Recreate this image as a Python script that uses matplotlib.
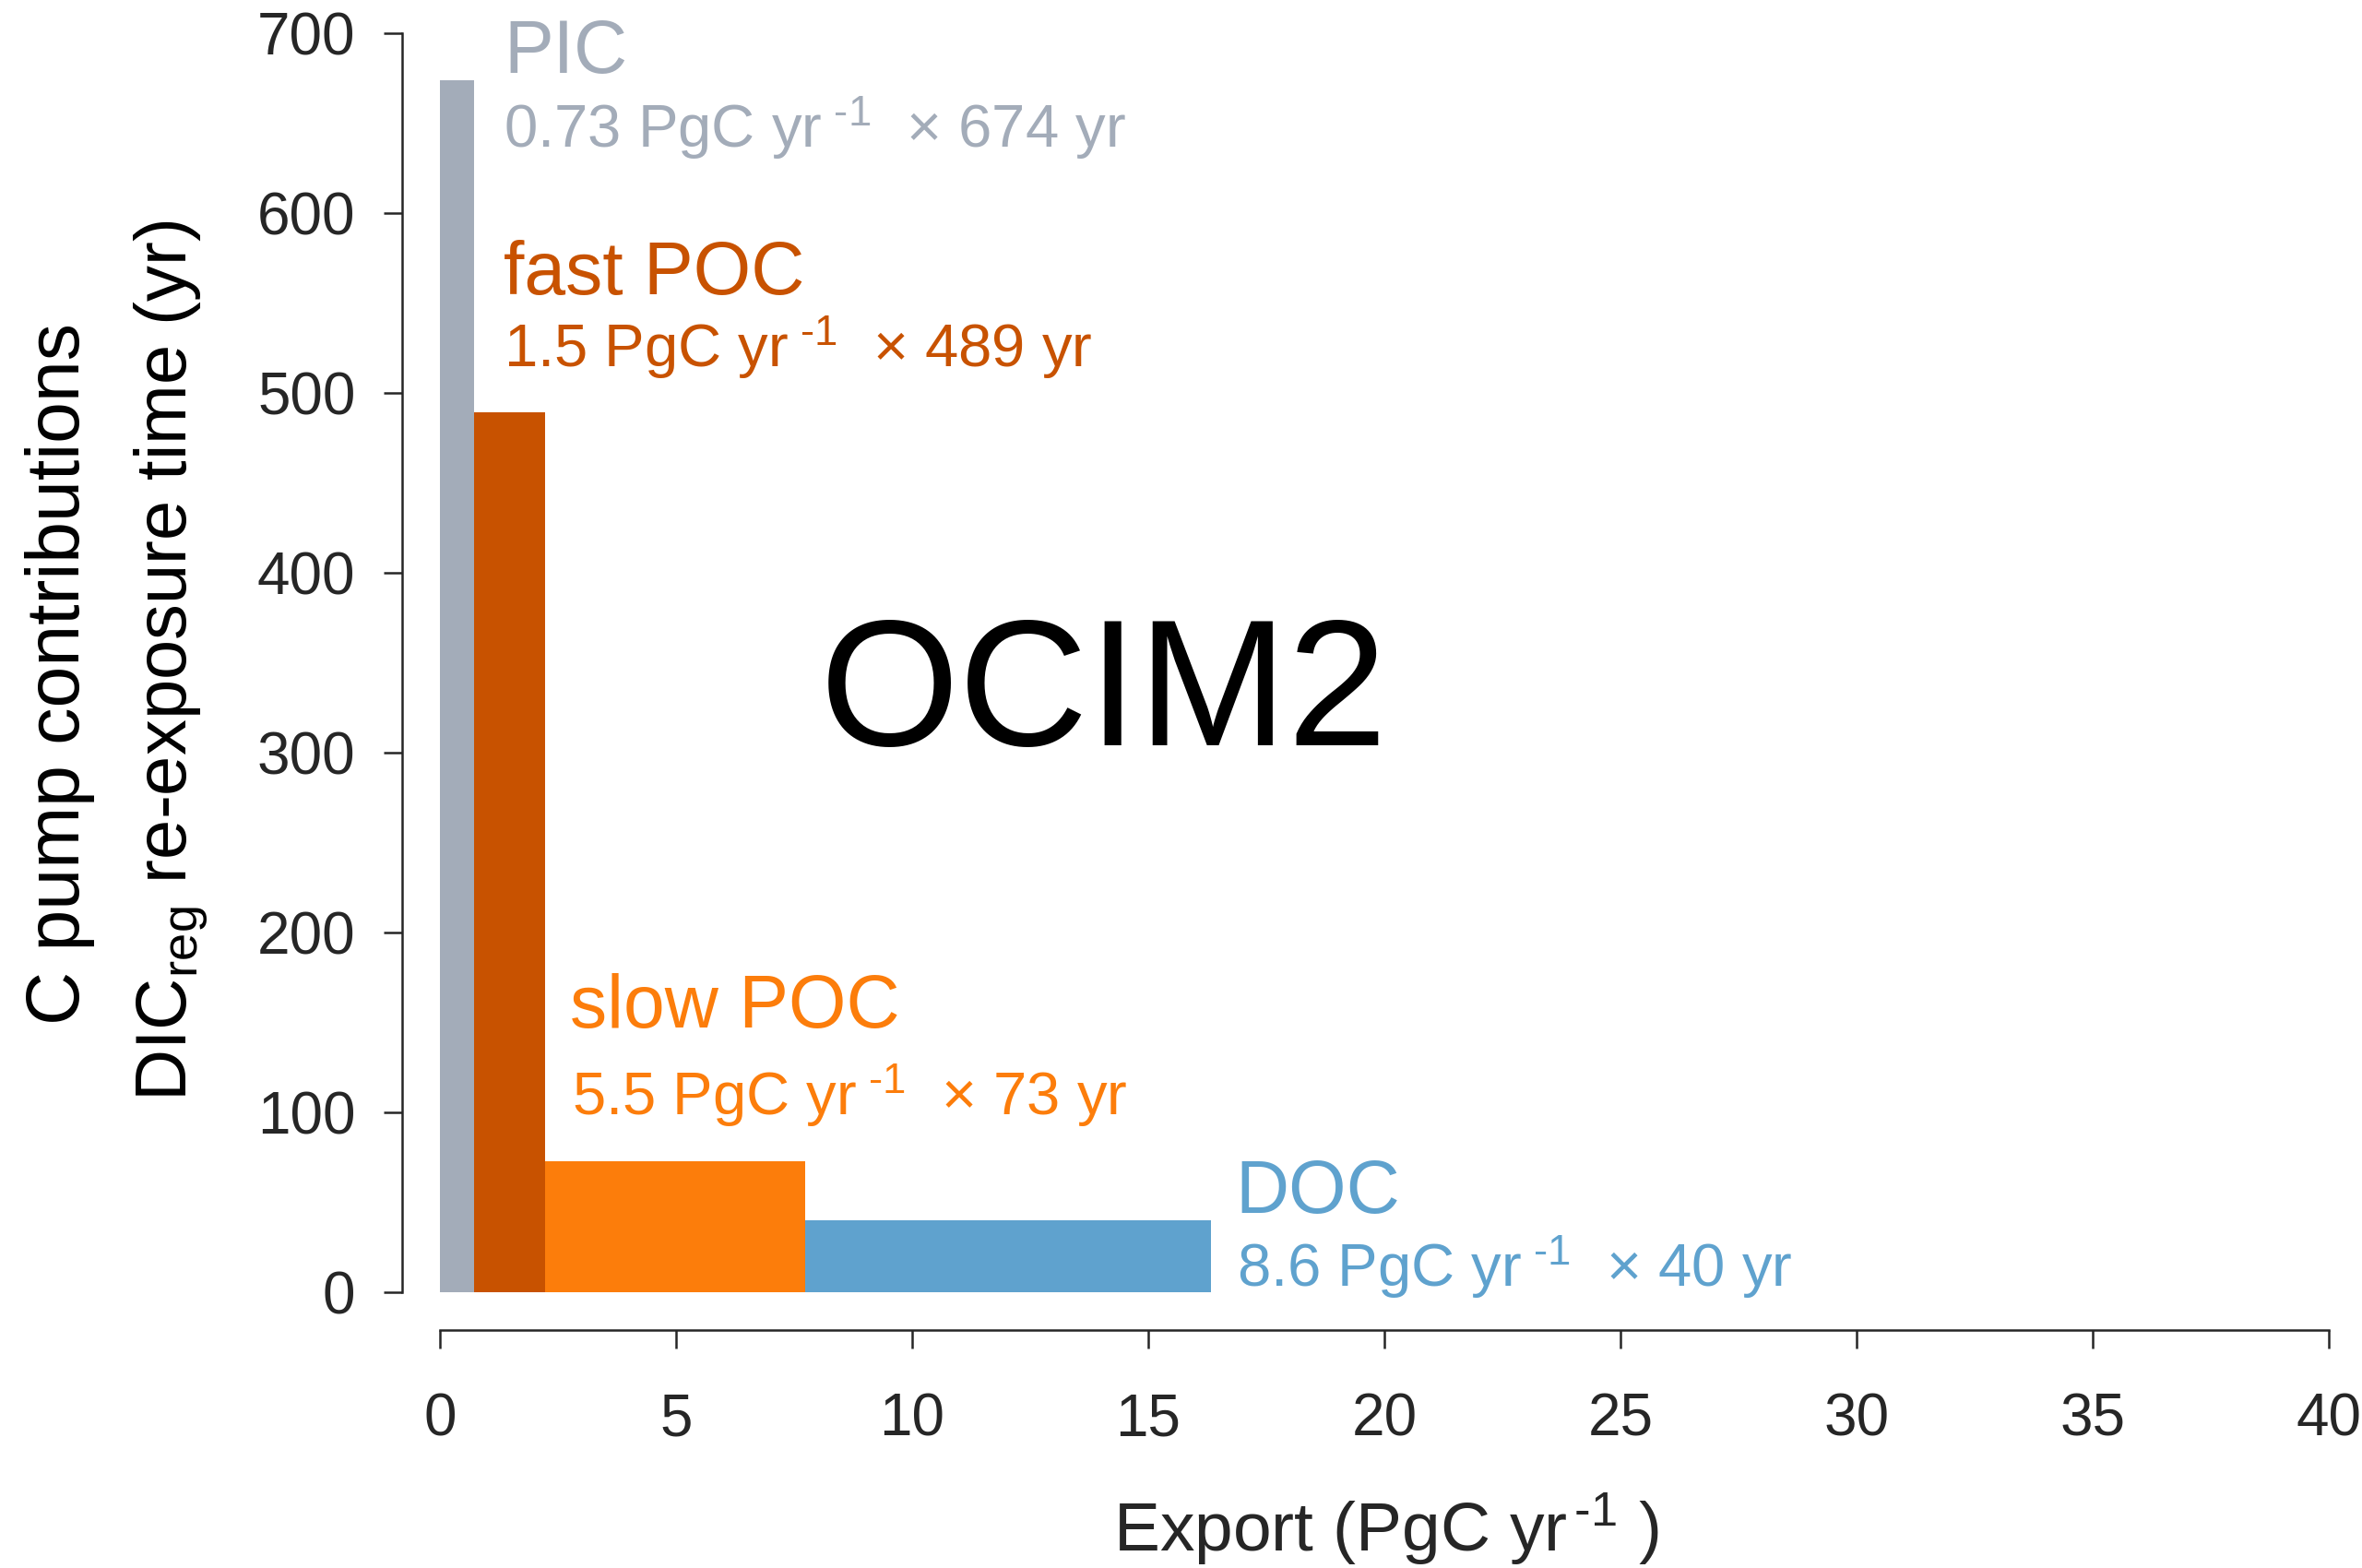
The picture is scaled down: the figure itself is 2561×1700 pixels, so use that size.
import matplotlib
matplotlib.use("Agg")
import matplotlib.pyplot as plt
import numpy as np

# ---- data ----
categories = ["PIC", "fast POC", "slow POC", "DOC"]
export = [0.73, 1.5, 5.5, 8.6]            # PgC / yr  (bar widths)
reexposure = [674, 489, 73, 40]           # yr        (bar heights)
export_labels = ["0.73", "1.5", "5.5", "8.6"]
colors = ["#A3ACB9", "#C85200", "#FC7D0B", "#5FA2CE"]
xticks = [0, 5, 10, 15, 20, 25, 30, 35, 40]
yticks = [0, 100, 200, 300, 400, 500, 600, 700]

plt.rcParams["font.family"] = ["Liberation Sans", "DejaVu Sans"]
plt.rcParams["mathtext.fontset"] = "custom"
plt.rcParams["mathtext.rm"] = "Liberation Sans"
plt.rcParams["mathtext.it"] = "Liberation Sans:italic"
plt.rcParams["mathtext.bf"] = "Liberation Sans:bold"

DPI = 200
W, H = 2561, 1700
fig = plt.figure(figsize=(W / DPI, H / DPI), dpi=DPI)
ax = fig.add_axes([477 / W, 1 - 1401 / H, (2525 - 477) / W, (1401 - 36) / H])

lefts = np.concatenate([[0], np.cumsum(export)[:-1]])
ax.bar(lefts, reexposure, width=export, align="edge", color=colors, linewidth=0)

ax.set_xlim(0, 40)
ax.set_ylim(0, 700)
ax.set_xticks(xticks)
ax.set_yticks(yticks)

dark = "#262626"
for s in ["top", "right"]:
    ax.spines[s].set_visible(False)
off = 41 * 72 / DPI
for s in ["left", "bottom"]:
    ax.spines[s].set_position(("outward", off))
    ax.spines[s].set_linewidth(0.9)
    ax.spines[s].set_color(dark)
ax.tick_params(axis="both", direction="out", length=7.2, width=0.9, color=dark,
               labelcolor=dark, labelsize=23)
ax.tick_params(axis="x", pad=17)
ax.tick_params(axis="y", pad=11)

hy = "\u2010"
unit = r"PgC yr$^{\,\," + hy + r"1}$"

# category labels and value labels (data positions)
name_pos = [(1.35, 678), (1.35, 555), (2.75, 147), (16.85, 44)]
val_pos = [(1.35, 636), (1.35, 514), (2.8, 98), (16.87, 2.6)]
for i, cat in enumerate(categories):
    ax.text(*name_pos[i], cat, color=colors[i], fontsize=29, ha="left", va="baseline")
    ax.text(*val_pos[i], f"{export_labels[i]} {unit}  \u00d7 {reexposure[i]} yr",
            color=colors[i], fontsize=23.5, ha="left", va="baseline")

ax.text(14.05, 304, "OCIM2", fontsize=70, color="black", ha="center", va="baseline")

ax.set_xlabel(r"Export (PgC yr$^{\," + hy + r"1}$ )", fontsize=27, color=dark)
ax.xaxis.label.set_va("baseline")
ax.xaxis.set_label_coords((1503 - 477) / (2525 - 477), (1401 - 1682) / (1401 - 36))

fig.text(86 / W, 1 - 731 / H, "C pump contributions", rotation=90,
         rotation_mode="anchor", ha="center", va="baseline", fontsize=29, color="black")
fig.text(203 / W, 1 - 716 / H, r"DIC$_{\mathrm{reg}}$ re-exposure time (yr)", rotation=90,
         rotation_mode="anchor", ha="center", va="baseline", fontsize=28, color="black")

fig.savefig("out.png", dpi=DPI)
